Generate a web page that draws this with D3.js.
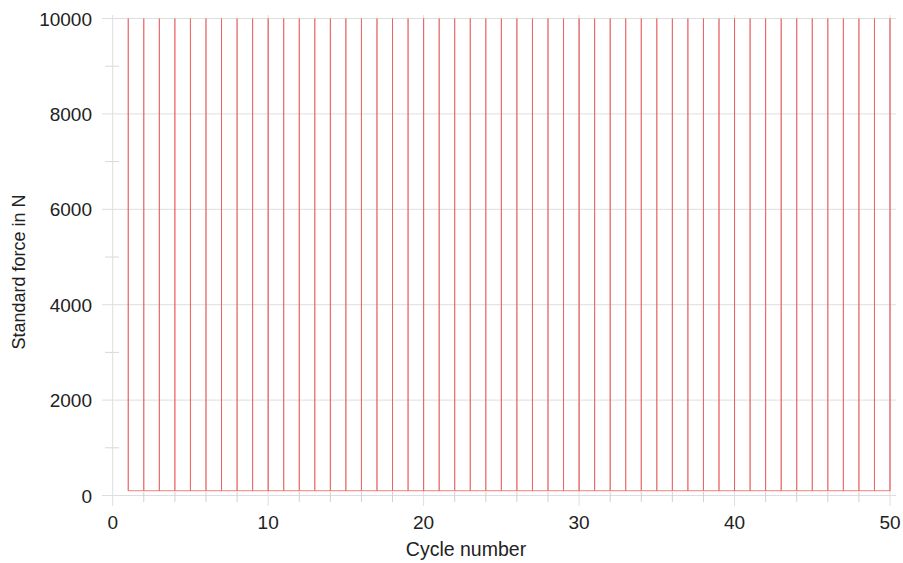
<!DOCTYPE html>
<html>
<head>
<meta charset="utf-8">
<script src="https://cdn.jsdelivr.net/npm/d3@7"></script>
<style>
  body { margin: 0; background: #fff; }
  text { font-family: "Liberation Sans", Arial, sans-serif; fill: #222; }
</style>
</head>
<body>
<div class="chart"></div>
<script>
// cycle data: each cycle ramps from the base force up to the peak and back
const cycles = [1, 2, 3, 4, 5, 6, 7, 8, 9, 10, 11, 12, 13, 14, 15, 16, 17, 18, 19, 20,
  21, 22, 23, 24, 25, 26, 27, 28, 29, 30, 31, 32, 33, 34, 35, 36, 37, 38, 39, 40,
  41, 42, 43, 44, 45, 46, 47, 48, 49, 50];
const peakForce = [10000, 10000, 10000, 10000, 10000, 10000, 10000, 10000, 10000, 10000,
  10000, 10000, 10000, 10000, 10000, 10000, 10000, 10000, 10000, 10000,
  10000, 10000, 10000, 10000, 10000, 10000, 10000, 10000, 10000, 10000,
  10000, 10000, 10000, 10000, 10000, 10000, 10000, 10000, 10000, 10000,
  10000, 10000, 10000, 10000, 10000, 10000, 10000, 10000, 10000, 10000];
const baseForce = 100;

const xTicks = [0, 10, 20, 30, 40, 50];
const xMinorTicks = [2, 4, 6, 8, 12, 14, 16, 18, 22, 24, 26, 28, 32, 34, 36, 38, 42, 44, 46, 48];
const yTicks = [0, 2000, 4000, 6000, 8000, 10000];
const yMinorTicks = [1000, 3000, 5000, 7000, 9000];

const width = 903;
const height = 563;

let x = d3.scaleLinear().domain([0, 50]).range([112.7, 890]);
let y = d3.scaleLinear().domain([0, 10000]).range([495.5, 18.5]);

let graph = d3
  .select(".chart")
  .append("svg")
  .attr("width", width)
  .attr("height", height);

// horizontal gridlines
graph
  .append("g")
  .attr("id", "yGrid")
  .selectAll("line")
  .data(yTicks)
  .enter()
  .append("line")
  .attr("x1", 102)
  .attr("x2", 896)
  .attr("y1", d => y(d))
  .attr("y2", d => y(d))
  .attr("stroke", "#dedede")
  .attr("stroke-width", 1);

// minor y ticks
graph
  .append("g")
  .attr("id", "yMinor")
  .selectAll("line")
  .data(yMinorTicks)
  .enter()
  .append("line")
  .attr("x1", 105)
  .attr("x2", 119)
  .attr("y1", d => y(d))
  .attr("y2", d => y(d))
  .attr("stroke", "#d8d8d8");

// vertical gridlines at major x ticks
graph
  .append("g")
  .attr("id", "xGrid")
  .selectAll("line")
  .data(xTicks)
  .enter()
  .append("line")
  .attr("x1", d => x(d))
  .attr("x2", d => x(d))
  .attr("y1", 15)
  .attr("y2", 506)
  .attr("stroke", "#dedede");

// minor x ticks
graph
  .append("g")
  .attr("id", "xMinor")
  .selectAll("line")
  .data(xMinorTicks)
  .enter()
  .append("line")
  .attr("x1", d => x(d))
  .attr("x2", d => x(d))
  .attr("y1", 492)
  .attr("y2", 502)
  .attr("stroke", "#d0d0d0");

// force trace
let points = [];
cycles.forEach((c, i) => {
  points.push([c, baseForce]);
  points.push([c, peakForce[i]]);
  points.push([c, baseForce]);
});

let line = d3
  .line()
  .x(d => x(d[0]))
  .y(d => y(d[1]));

graph
  .append("path")
  .datum(points)
  .attr("d", line)
  .attr("fill", "none")
  .attr("stroke", "#e85a5a")
  .attr("stroke-opacity", 0.75)
  .attr("stroke-width", 1);

// tick labels
graph
  .append("g")
  .attr("id", "yLabels")
  .selectAll("text")
  .data(yTicks)
  .enter()
  .append("text")
  .attr("x", 92)
  .attr("y", d => y(d) + 7)
  .attr("text-anchor", "end")
  .style("font-size", "19px")
  .text(d => d);

graph
  .append("g")
  .attr("id", "xLabels")
  .selectAll("text")
  .data(xTicks)
  .enter()
  .append("text")
  .attr("x", d => x(d))
  .attr("y", 529)
  .attr("text-anchor", "middle")
  .style("font-size", "19px")
  .text(d => d);

// axis titles
graph
  .append("text")
  .attr("x", 466)
  .attr("y", 556)
  .attr("text-anchor", "middle")
  .style("font-size", "19.5px")
  .text("Cycle number");

graph
  .append("text")
  .attr("transform", "translate(25,272) rotate(-90)")
  .attr("text-anchor", "middle")
  .style("font-size", "18px")
  .text("Standard force in N");
</script>
</body>
</html>
